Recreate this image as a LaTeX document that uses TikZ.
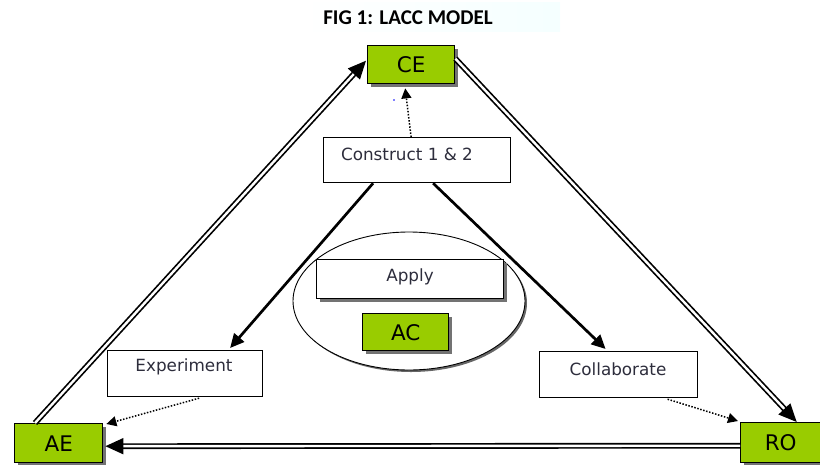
\documentclass[tikz,border=0pt]{standalone}
\usepackage{fontspec}
\setmainfont{DejaVu Sans}
\newfontfamily\titlefont{Carlito}
\usetikzlibrary{arrows.meta,shadows}

\definecolor{boxgreen}{RGB}{153,204,0}
\definecolor{txtgray}{RGB}{45,45,60}

\tikzset{
  greenbox/.style={draw=black, line width=1.4pt, fill=boxgreen, inner sep=0pt,
    anchor=north west, font=\fontsize{21.5}{22}\selectfont,
    drop shadow={shadow xshift=3pt, shadow yshift=-3pt, fill=black!55, opacity=1}},
  whitebox/.style={draw=black, line width=1.2pt, fill=white, inner sep=0pt,
    anchor=north west},
  shadowbox/.style={whitebox,
    drop shadow={shadow xshift=3pt, shadow yshift=-3pt, fill=black!55, opacity=1}},
  boxtext/.style={font=\fontsize{16.8}{17}\selectfont, text=txtgray, inner sep=0pt},
  dbl/.style={double=white, double distance=2.4pt, line width=1.7pt,
    -{Triangle[length=18pt,width=16pt]}},
  solidarrow/.style={line width=2.7pt, -{Triangle[length=14pt,width=13pt]}},
  dotarrow/.style={line width=1.5pt, dash pattern=on 1.5pt off 1.6pt,
    -{Triangle[length=10pt,width=10pt]}},
}

\begin{document}
\begin{tikzpicture}[x=1pt,y=-1pt]
\useasboundingbox (0,0) rectangle (820,464);

% title band
\shade[left color=white, middle color=cyan!7, right color=cyan!4] (300,2) rectangle (560,31);
\node[font=\titlefont\bfseries\fontsize{21}{21}\selectfont, inner sep=0pt] (title) at (408,18) {FIG 1: LACC MODEL};

% centre ellipse
\draw[line width=0.9pt, fill=white,
  drop shadow={shadow xshift=2pt, shadow yshift=-2pt, fill=black!60, opacity=1}]
  (409,301) ellipse [x radius=116, y radius=69];

% corner boxes
\node[greenbox, minimum width=87pt, minimum height=38pt] (ce) at (367,45) {CE};
\node[greenbox, minimum width=88pt, minimum height=39pt] (ae) at (14,423) {AE};
\node[greenbox, minimum width=80pt, minimum height=40pt] (ro) at (740,422) {RO};

% inner boxes
\node[whitebox, minimum width=187pt, minimum height=45pt] (con) at (323,137) {};
\node[boxtext] (contxt) at (407,154) {Construct 1 \& 2};

\node[shadowbox, minimum width=187pt, minimum height=39pt] (apply) at (316,259) {};
\node[boxtext] (applytxt) at (410,277) {Apply};

\node[greenbox, minimum width=86pt, minimum height=37pt] (ac) at (362,313) {AC};

\node[whitebox, minimum width=155pt, minimum height=46pt] (exp) at (107,350) {};
\node[boxtext] (exptxt) at (184,367) {Experiment};

\node[whitebox, minimum width=158pt, minimum height=46pt] (col) at (539,351) {};
\node[boxtext] (coltxt) at (618,369) {Collaborate};

% cycle of double arrows
\draw[dbl] ([xshift=21pt]ae.north west) -- ([yshift=4pt, xshift=-1pt]ce.west);
\draw[dbl] ([yshift=6pt]ce.east) -- ([xshift=16pt]ro.north);
\draw[dbl] ([yshift=-3pt]ro.west) -- ([yshift=-3pt, xshift=2pt]ae.east);

% construct links
\draw[solidarrow] ([xshift=-44pt]con.south) -- ([xshift=45pt, yshift=2pt]exp.north);
\draw[solidarrow] ([xshift=16pt]con.south) -- ([xshift=-13pt, yshift=2pt]col.north);
\draw[dotarrow] ([xshift=-6pt]con.north) -- ([xshift=-6pt, yshift=-4pt]ce.south);

% dotted links to corners
\draw[dotarrow] ([xshift=14pt, yshift=-1pt]exp.south) -- ([xshift=3pt, yshift=-1pt]ae.north east);
\draw[dotarrow] ([xshift=49pt, yshift=-1pt]col.south) -- ([xshift=-2pt, yshift=1pt]ro.north west);

% stray point
\fill[blue] (394,100) circle (0.8pt);
\end{tikzpicture}
\end{document}
